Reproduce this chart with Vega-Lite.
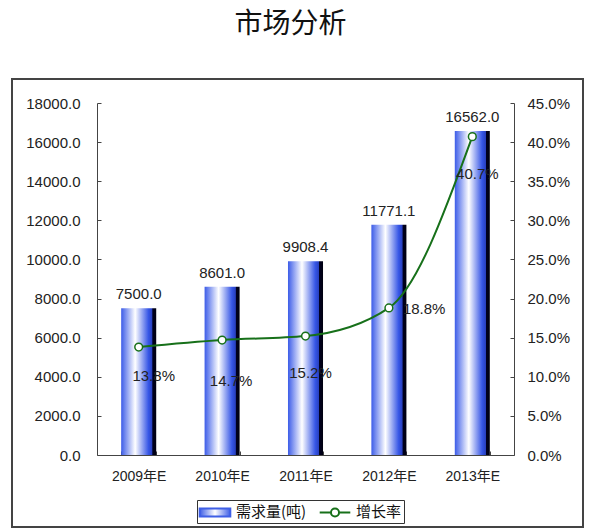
{
  "$schema": "https://vega.github.io/schema/vega-lite/v6.json",
  "autosize": "none",
  "width": 571,
  "height": 448,
  "padding": {"left": 12, "top": 79, "right": 14, "bottom": 2},
  "background": "white",
  "title": {"text": "市场分析", "font": "Noto Sans CJK SC", "fontSize": 28, "fontWeight": "normal", "color": "#111111", "offset": 40, "frame": "group", "anchor": "middle", "dx": -7},
  "config": {"view": {"stroke": "#444444", "strokeWidth": 2}, "font": "Liberation Sans"},
  "data": {"values": [
    {"year": "2009年E", "value": 7500.0, "rate": 0.138},
    {"year": "2010年E", "value": 8601.0, "rate": 0.147},
    {"year": "2011年E", "value": 9908.4, "rate": 0.152},
    {"year": "2012年E", "value": 11771.1, "rate": 0.188},
    {"year": "2013年E", "value": 16562.0, "rate": 0.407}
  ]},
  "encoding": {
    "x": {"field": "year", "type": "ordinal", "sort": null,
      "scale": {"range": [85, 502], "paddingInner": 0.58, "paddingOuter": 0.29},
      "axis": {"orient": "bottom", "offset": -72, "title": null, "labelAngle": 0, "tickBand": "extent", "tickSize": -4, "labelPadding": 18, "labelFontSize": 14, "labelFont": "Liberation Sans, Noto Sans CJK SC", "labelColor": "#222222", "domainColor": "#444444", "tickColor": "#444444"}}
  },
  "layer": [
    {
      "encoding": {"y": {"field": "value", "type": "quantitative",
        "scale": {"domain": [0, 18000], "range": [376, 24], "nice": false},
        "axis": {"orient": "left", "offset": -85, "title": null, "grid": false, "values": [0, 2000, 4000, 6000, 8000, 10000, 12000, 14000, 16000, 18000], "format": ".1f", "tickSize": -4, "labelPadding": 21, "labelFontSize": 15, "labelColor": "#222222", "domainColor": "#444444", "tickColor": "#444444"}}},
      "layer": [
        {"mark": {"type": "bar", "fill": {"gradient": "linear", "x1": 0, "y1": 0, "x2": 1, "y2": 0, "stops": [
          {"offset": 0, "color": "#3c5ce8"},
          {"offset": 0.4, "color": "#ffffff"},
          {"offset": 0.78, "color": "#3656e6"},
          {"offset": 0.88, "color": "#2840c0"},
          {"offset": 0.9, "color": "#000020"},
          {"offset": 1, "color": "#000010"}]}}},
        {"mark": {"type": "text", "baseline": "alphabetic", "dy": -9, "fontSize": 15, "color": "#222222"},
          "encoding": {"text": {"field": "value", "type": "quantitative", "format": ".1f"}}}
      ]
    },
    {
      "encoding": {"y": {"field": "rate", "type": "quantitative",
        "scale": {"domain": [0, 0.45], "range": [376, 24], "nice": false},
        "axis": {"orient": "right", "offset": -69, "title": null, "grid": false, "values": [0, 0.05, 0.1, 0.15, 0.2, 0.25, 0.3, 0.35, 0.4, 0.45], "format": ".1%", "tickSize": -4, "labelPadding": 17, "labelFontSize": 15, "labelColor": "#222222", "domainColor": "#444444", "tickColor": "#444444"}}},
      "layer": [
        {"mark": {"type": "line", "interpolate": "monotone", "strokeWidth": 2},
          "encoding": {"color": {"datum": "增长率", "type": "nominal",
            "scale": {"domain": ["需求量(吨)", "增长率"], "range": ["#3f5fe6", "#17701a"]},
            "legend": {"orient": "none", "legendX": 185, "legendY": 421, "direction": "horizontal", "title": null, "strokeColor": "#333333", "fillColor": "white", "padding": 2, "labelFont": "Noto Sans CJK SC", "labelFontSize": 15, "labelColor": "#111111", "symbolSize": 324, "symbolOffset": 6, "columnPadding": 8, "labelOffset": 11,
              "encode": {"symbols": {"update": {
                "shape": {"signal": "datum.value === '增长率' ? 'M-1.7,0H-0.45M0.45,0A0.45,0.45 0 1,1 -0.45,0A0.45,0.45 0 1,1 0.45,0M0.45,0H1.7' : 'M-1.7,-0.45H1.7V0.45H-1.7Z'"},
                "fill": {"signal": "datum.value === '增长率' ? '#ffffff' : {gradient: 'linear', x1: 0, y1: 0, x2: 1, y2: 0, stops: [{offset: 0, color: '#3f5fe6'}, {offset: 0.5, color: '#ffffff'}, {offset: 1, color: '#3f5fe6'}]}"},
                "stroke": {"signal": "datum.value === '增长率' ? '#17701a' : 'transparent'"},
                "strokeWidth": {"value": 2},
                "opacity": {"value": 1}
              }}}}}}},
        {"mark": {"type": "circle", "fill": "#ffffff", "stroke": "#17701a", "strokeWidth": 1.5, "size": 60, "opacity": 1}},
        {"transform": [{"filter": "datum.year === '2009年E'"}],
          "mark": {"type": "text", "dx": 15, "dy": 29, "fontSize": 15, "color": "#222222"},
          "encoding": {"text": {"field": "rate", "type": "quantitative", "format": ".1%"}}},
        {"transform": [{"filter": "datum.year === '2010年E'"}],
          "mark": {"type": "text", "dx": 9, "dy": 41, "fontSize": 15, "color": "#222222"},
          "encoding": {"text": {"field": "rate", "type": "quantitative", "format": ".1%"}}},
        {"transform": [{"filter": "datum.year === '2011年E' || datum.year === '2013年E'"}],
          "mark": {"type": "text", "dx": 5, "dy": 37, "fontSize": 15, "color": "#222222"},
          "encoding": {"text": {"field": "rate", "type": "quantitative", "format": ".1%"}}},
        {"transform": [{"filter": "datum.year === '2012年E'"}],
          "mark": {"type": "text", "align": "left", "dx": 14, "dy": 1, "fontSize": 15, "color": "#222222"},
          "encoding": {"text": {"field": "rate", "type": "quantitative", "format": ".1%"}}}
      ]
    }
  ],
  "resolve": {"scale": {"y": "independent"}}
}
